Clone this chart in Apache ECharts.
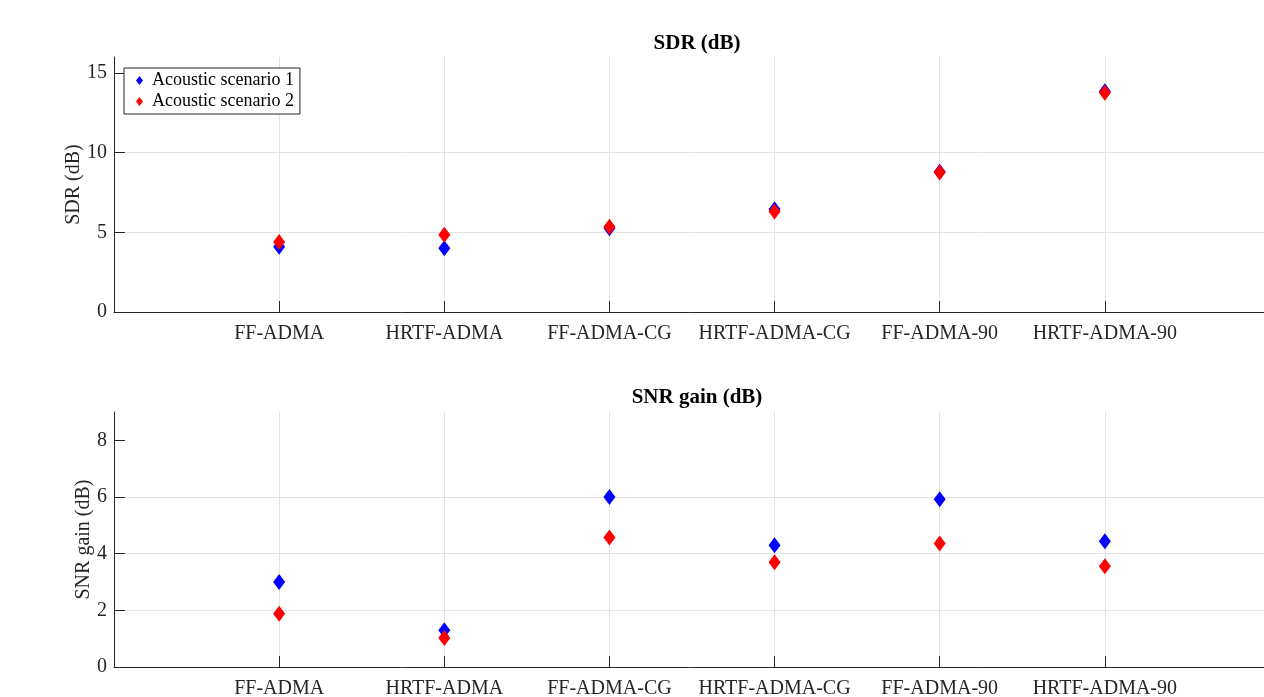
<!DOCTYPE html>
<html>
<head>
<meta charset="utf-8">
<script src="https://cdn.jsdelivr.net/npm/echarts@6/dist/echarts.min.js"></script>
<style>
html,body{margin:0;padding:0;background:#fff;}
#chart{width:1264px;height:697px;}
</style>
</head>
<body>
<div id="chart"></div>
<script>
const categories = ['FF-ADMA', 'HRTF-ADMA', 'FF-ADMA-CG', 'HRTF-ADMA-CG', 'FF-ADMA-90', 'HRTF-ADMA-90'];
const seriesNames = ['Acoustic scenario 1', 'Acoustic scenario 2'];
const sdrScenario1 = [4.1, 4.0, 5.25, 6.45, 8.8, 13.85];
const sdrScenario2 = [4.4, 4.85, 5.35, 6.3, 8.75, 13.75];
const snrScenario1 = [3.0, 1.3, 6.0, 4.3, 5.92, 4.44];
const snrScenario2 = [1.88, 1.02, 4.57, 3.7, 4.36, 3.56];
const sdrTicks = [0, 5, 10, 15];
const snrTicks = [0, 2, 4, 6, 8];

const FONT = "'Liberation Serif', 'Times New Roman', serif";
const AX = '#262626';
const GRIDC = '#e3e3e3';

function pts(vals) { return vals.map((v, i) => [i + 1, v]); }

function xAxisDef(gi) {
  return {
    type: 'value', gridIndex: gi, min: 0, max: 7, interval: 1,
    axisLine: { show: true, lineStyle: { color: AX, width: 1 } },
    axisTick: { show: true, inside: true, length: 11, lineStyle: { color: AX } },
    axisLabel: {
      margin: 12, color: AX, fontFamily: FONT, fontSize: 20,
      formatter: v => (v >= 1 && v <= categories.length) ? categories[v - 1] : ''
    },
    splitLine: { show: true, showMinLine: false, lineStyle: { color: GRIDC, width: 1 } }
  };
}
function yAxisDef(gi, max, interval, ticks, name, gap) {
  return {
    type: 'value', gridIndex: gi, min: 0, max: max, interval: interval,
    name: name, nameLocation: 'middle', nameGap: gap, nameRotate: 90, nameMoveOverlap: false,
    nameTextStyle: { color: AX, fontFamily: FONT, fontSize: 20 },
    axisLine: { show: true, lineStyle: { color: AX, width: 1 } },
    axisTick: { show: true, inside: true, length: 11, lineStyle: { color: AX }, customValues: ticks },
    axisLabel: { margin: 7, color: AX, fontFamily: FONT, fontSize: 20, customValues: ticks },
    splitLine: { show: true, showMinLine: false, showMaxLine: false, lineStyle: { color: GRIDC, width: 1 } }
  };
}
function sc(name, color, data, xi, yi) {
  return {
    name: name, type: 'scatter', xAxisIndex: xi, yAxisIndex: yi,
    symbol: 'diamond', symbolSize: [12, 16],
    itemStyle: { color: color, opacity: 1 },
    data: data, z: color === '#ff0000' ? 3 : 2
  };
}

const chart = echarts.init(document.getElementById('chart'), null, { renderer: 'canvas' });
chart.setOption({
  backgroundColor: '#ffffff',
  animation: false,
  title: [
    { text: 'SDR (dB)', left: 692, top: 28, textAlign: 'center',
      textStyle: { fontFamily: FONT, fontSize: 21, fontWeight: 'bold', color: '#000' } },
    { text: 'SNR gain (dB)', left: 692, top: 382, textAlign: 'center',
      textStyle: { fontFamily: FONT, fontSize: 21, fontWeight: 'bold', color: '#000' } }
  ],
  legend: {
    data: seriesNames.map(n => ({ name: n, icon: 'diamond' })),
    orient: 'vertical', left: 124, top: 68,
    padding: [2, 6, 2, 12], itemGap: 0, itemWidth: 7, itemHeight: 9,
    borderColor: AX, borderWidth: 1, backgroundColor: '#fff',
    textStyle: { fontFamily: FONT, fontSize: 18, color: '#000', lineHeight: 21, padding: [0, 0, 0, 4] },
    z: 10
  },
  grid: [
    { left: 114, top: 57, width: 1156, height: 255, outerBoundsMode: 'none' },
    { left: 114, top: 412, width: 1156, height: 255, outerBoundsMode: 'none' }
  ],
  xAxis: [xAxisDef(0), xAxisDef(1)],
  yAxis: [
    yAxisDef(0, 16, 5, sdrTicks, 'SDR (dB)', 30),
    yAxisDef(1, 9, 1, snrTicks, 'SNR gain (dB)', 20)
  ],
  series: [
    sc(seriesNames[0], '#0000ff', pts(sdrScenario1), 0, 0),
    sc(seriesNames[1], '#ff0000', pts(sdrScenario2), 0, 0),
    sc(seriesNames[0], '#0000ff', pts(snrScenario1), 1, 1),
    sc(seriesNames[1], '#ff0000', pts(snrScenario2), 1, 1)
  ]
});
</script>
</body>
</html>
